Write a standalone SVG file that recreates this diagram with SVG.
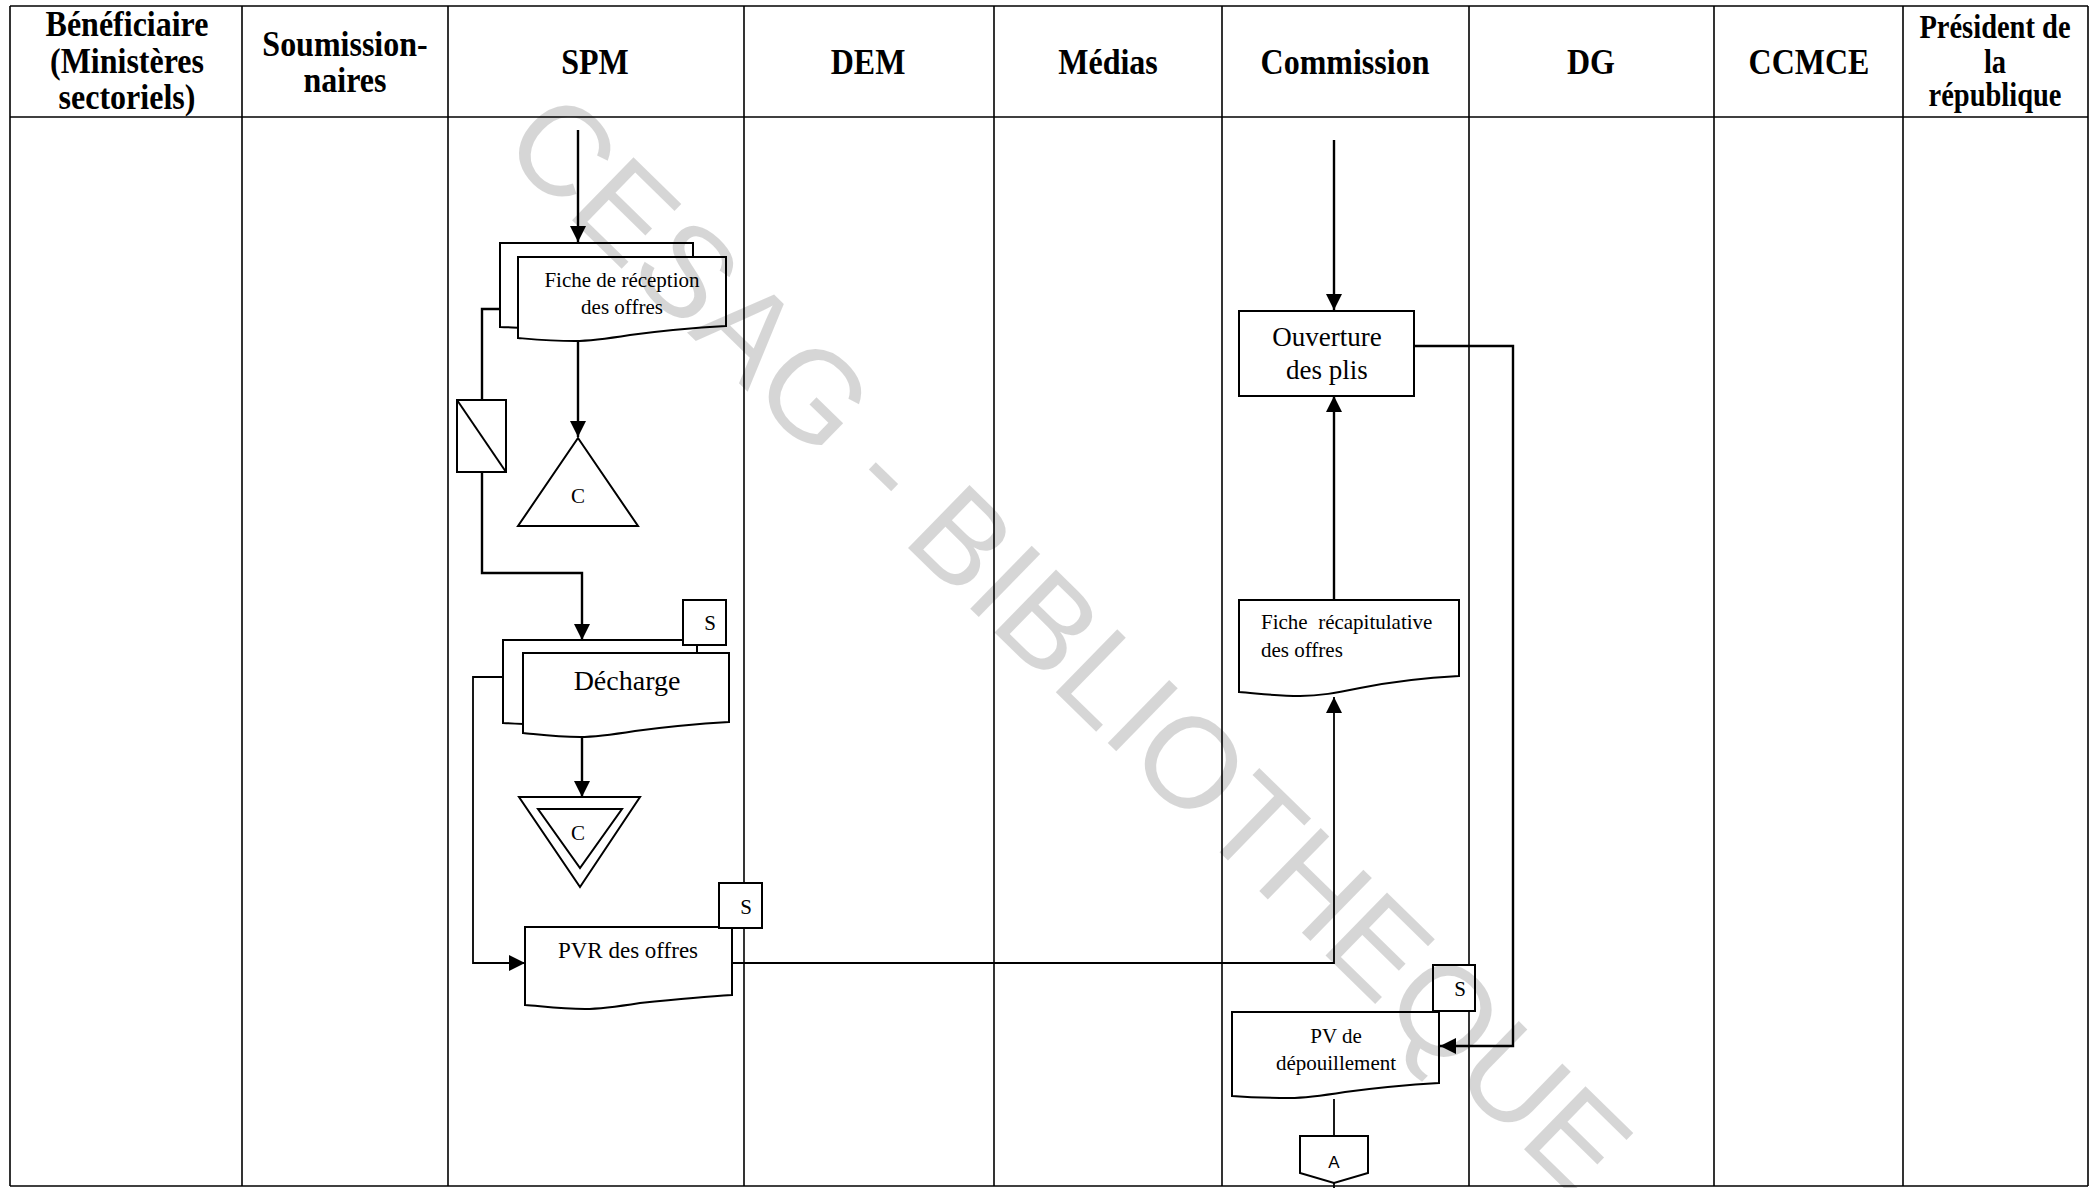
<svg xmlns="http://www.w3.org/2000/svg" width="2098" height="1188" viewBox="0 0 2098 1188">
  <style>
    .lane { stroke: #000; stroke-width: 1.6; fill: none; }
    .hdr { font-family: "Liberation Serif", "Times New Roman", serif; font-weight: bold; font-size: 32px; text-anchor: middle; fill: #000; }
    .hdr-s { font-size: 28.5px; }
    .shape { fill: #fff; stroke: #000; stroke-width: 2; }
    .lbl { font-family: "Liberation Serif", "Times New Roman", serif; font-size: 21px; fill: #000; text-anchor: middle; }
    .flow { fill: none; stroke: #000; stroke-width: 2.4; }
    .thin { fill: none; stroke: #000; stroke-width: 1.8; }
    .wm { font-family: "Liberation Sans", Arial, sans-serif; font-size: 128px; fill: #000; fill-opacity: 0.16; text-anchor: middle; }
  </style>
  <defs>
    <marker id="arr" viewBox="0 0 16 16" refX="16" refY="8" markerWidth="16" markerHeight="16" markerUnits="userSpaceOnUse" orient="auto">
      <path d="M0,0 L16,8 L0,16 Z" fill="#000"/>
    </marker>
  </defs>

  <rect x="0" y="0" width="2098" height="1188" fill="#fff"/>

  <!-- swimlane grid -->
  <g id="lanes" class="lane">
    <line x1="10" y1="6" x2="2088" y2="6"/>
    <line x1="10" y1="117" x2="2088" y2="117"/>
    <line x1="10" y1="1186" x2="2088" y2="1186"/>
    <line x1="10" y1="6" x2="10" y2="1186"/>
    <line x1="242" y1="6" x2="242" y2="1186"/>
    <line x1="448" y1="6" x2="448" y2="1186"/>
    <line x1="744" y1="6" x2="744" y2="1186"/>
    <line x1="994" y1="6" x2="994" y2="1186"/>
    <line x1="1222" y1="6" x2="1222" y2="1186"/>
    <line x1="1469" y1="6" x2="1469" y2="1186"/>
    <line x1="1714" y1="6" x2="1714" y2="1186"/>
    <line x1="1903" y1="6" x2="1903" y2="1186"/>
    <line x1="2088" y1="6" x2="2088" y2="1186"/>
  </g>

  <!-- lane headers -->
  <g id="headers">
    <text class="hdr" transform="translate(127,36) scale(1,1.15)">Bénéficiaire</text>
    <text class="hdr" transform="translate(127,73) scale(1,1.15)">(Ministères</text>
    <text class="hdr" transform="translate(127,109) scale(1,1.15)">sectoriels)</text>
    <text class="hdr" transform="translate(345,56) scale(1,1.15)">Soumission-</text>
    <text class="hdr" transform="translate(345,92) scale(1,1.15)">naires</text>
    <text class="hdr" transform="translate(595,74) scale(1,1.15)">SPM</text>
    <text class="hdr" transform="translate(868,74) scale(1,1.15)">DEM</text>
    <text class="hdr" transform="translate(1108,74) scale(1,1.15)">Médias</text>
    <text class="hdr" transform="translate(1345,74) scale(1,1.15)">Commission</text>
    <text class="hdr" transform="translate(1591,74) scale(1,1.15)">DG</text>
    <text class="hdr" transform="translate(1809,74) scale(1,1.15)">CCMCE</text>
    <text class="hdr hdr-s" transform="translate(1995,38) scale(1,1.15)">Président de</text>
    <text class="hdr hdr-s" transform="translate(1995,73) scale(1,1.15)">la</text>
    <text class="hdr hdr-s" transform="translate(1995,106) scale(1,1.15)">république</text>
  </g>

  <!-- connectors -->
  <g id="connectors">
    <path class="flow" d="M578,130 V242" marker-end="url(#arr)"/>
    <path class="flow" d="M578,341 V437" marker-end="url(#arr)"/>
    <path class="flow" d="M500,309 H482 V400"/>
    <path class="flow" d="M482,472 V573 H582 V640" marker-end="url(#arr)"/>
    <path class="flow" d="M582,737 V797" marker-end="url(#arr)"/>
    <path class="thin" d="M503,677 H473 V963 H525" marker-end="url(#arr)"/>
    <path class="thin" d="M732,963 H1334 V697" marker-end="url(#arr)"/>
    <path class="flow" d="M1334,140 V310" marker-end="url(#arr)"/>
    <path class="flow" d="M1334,600 V396" marker-end="url(#arr)"/>
    <path class="flow" d="M1414,346 H1513 V1046 H1440" marker-end="url(#arr)"/>
    <path class="thin" d="M1334,1099 V1136"/>
    <path class="thin" d="M1334,1183 V1188"/>
  </g>

  <!-- Fiche de réception des offres (multiple document) -->
  <g id="fiche-reception">
    <path class="shape" d="M500,243 H693 V313 C660,315 630,320 600,326 C560,330 530,328 500,327 Z"/>
    <path class="shape" d="M518,257 H726 V326 C690,328 660,331 630,335 C605,339 590,341 575,341 C550,341 530,339 518,338 Z"/>
    <text class="lbl" x="622" y="287">Fiche de réception</text>
    <text class="lbl" x="622" y="314">des offres</text>
  </g>

  <!-- classement provisoire -->
  <g id="classement-c">
    <path class="shape" d="M578,438 L638,526 L518,526 Z"/>
    <text class="lbl" x="578" y="503">C</text>
  </g>

  <!-- transfert -->
  <g id="transfert">
    <rect class="shape" x="457" y="400" width="49" height="72"/>
    <line x1="457" y1="400" x2="506" y2="472" stroke="#000" stroke-width="2"/>
  </g>

  <!-- Décharge (multiple document) -->
  <g id="decharge">
    <path class="shape" d="M503,640 H697 V712 C660,714 630,718 600,724 C560,728 530,724 503,723 Z"/>
    <rect class="shape" x="683" y="600" width="43" height="45"/>
    <text class="lbl" x="710" y="630">S</text>
    <path class="shape" d="M523,653 H729 V722 C695,724 665,727 635,731 C610,735 595,737 580,737 C555,737 535,734 523,733 Z"/>
    <text class="lbl" x="627" y="690" style="font-size:28px">Décharge</text>
  </g>

  <!-- classement définitif -->
  <g id="classement-definitif">
    <path class="shape" d="M519,797 L640,797 L580,887 Z"/>
    <path class="shape" d="M538,809 L622,809 L580,868 Z"/>
    <text class="lbl" x="578" y="840">C</text>
  </g>

  <!-- PVR des offres -->
  <g id="pvr-offres">
    <path class="shape" d="M525,927 H732 V995 C700,997 670,1000 640,1003 C615,1007 600,1009 585,1009 C560,1009 540,1006 525,1005 Z"/>
    <rect class="shape" x="719" y="883" width="43" height="45"/>
    <text class="lbl" x="746" y="914">S</text>
    <text class="lbl" x="628" y="958" style="font-size:23px">PVR des offres</text>
  </g>

  <!-- Ouverture des plis -->
  <g id="ouverture-plis">
    <rect class="shape" x="1239" y="311" width="175" height="85"/>
    <text class="lbl" x="1327" y="346" style="font-size:27px">Ouverture</text>
    <text class="lbl" x="1327" y="379" style="font-size:27px">des plis</text>
  </g>

  <!-- Fiche récapitulative des offres -->
  <g id="fiche-recap">
    <path class="shape" d="M1239,600 H1459 V676 C1420,678 1390,682 1360,688 C1335,693 1320,696 1300,696 C1275,696 1255,693 1239,692 Z"/>
    <text class="lbl" x="1261" y="629" style="text-anchor:start;white-space:pre">Fiche  récapitulative</text>
    <text class="lbl" x="1261" y="657" style="text-anchor:start">des offres</text>
  </g>

  <!-- PV de dépouillement -->
  <g id="pv-depouillement">
    <path class="shape" d="M1232,1012 H1439 V1083 C1405,1085 1375,1088 1345,1092 C1320,1096 1305,1098 1290,1098 C1265,1098 1245,1097 1232,1096 Z"/>
    <rect class="shape" x="1433" y="965" width="42" height="46"/>
    <text class="lbl" x="1460" y="996">S</text>
    <text class="lbl" x="1336" y="1043">PV de</text>
    <text class="lbl" x="1336" y="1070">dépouillement</text>
  </g>

  <!-- renvoi page suivante -->
  <g id="renvoi-a">
    <path class="shape" d="M1300,1136 H1368 V1173 L1334,1183 L1300,1173 Z"/>
    <text x="1334" y="1168" style="font-family:'Liberation Sans',Arial,sans-serif;font-size:17px;text-anchor:middle">A</text>
  </g>

  <!-- filigrane -->
  <text class="wm" transform="translate(1038,675) rotate(44.3)">CESAG - BIBLIOTHEQUE</text>
</svg>
